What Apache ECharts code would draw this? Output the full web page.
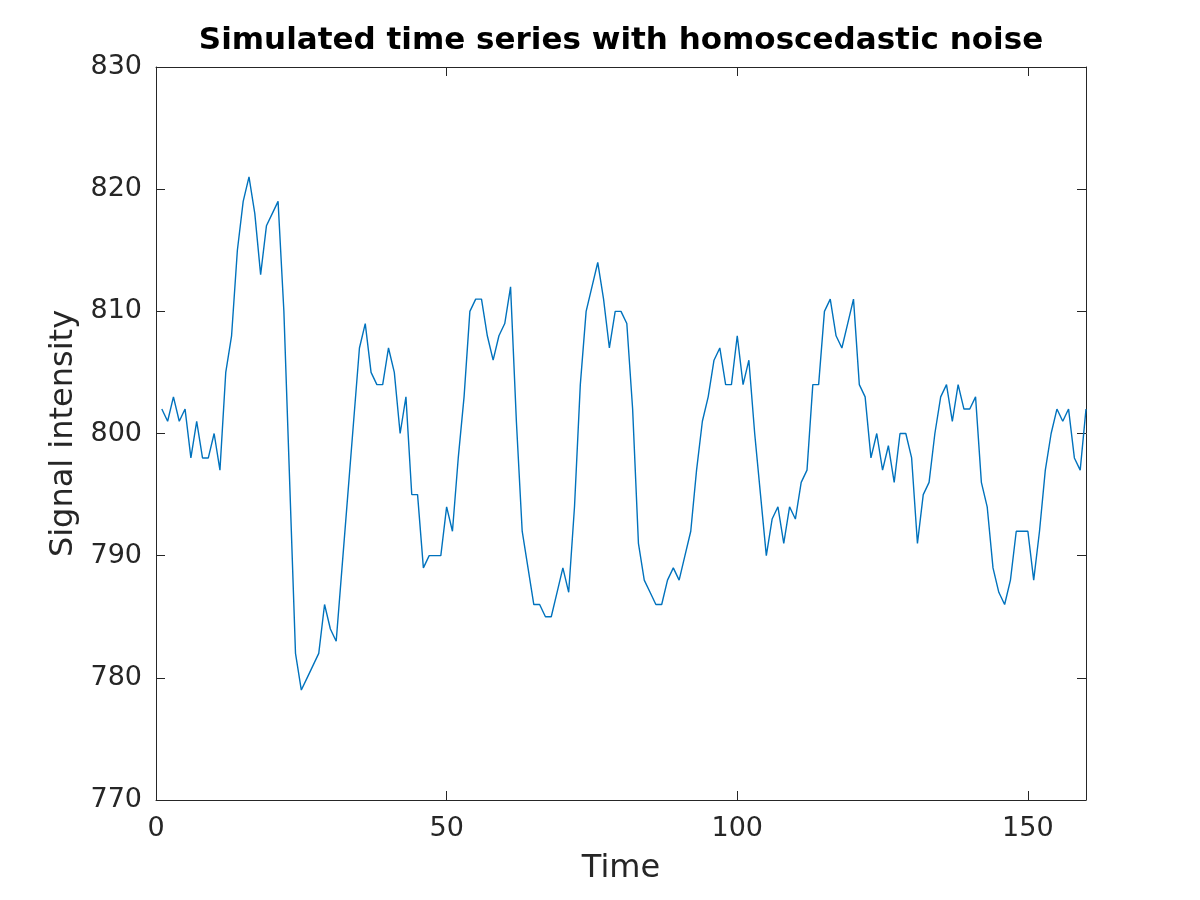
<!DOCTYPE html>
<html>
<head>
<meta charset="utf-8">
<script src="https://cdn.jsdelivr.net/npm/echarts@6/dist/echarts.min.js"></script>
<style>
  html, body { margin: 0; padding: 0; background: #ffffff; }
  #chart { width: 1200px; height: 900px; }
</style>
</head>
<body>
<div id="chart"></div>
<script>
// ---- Data ----
var titleText = 'Simulated time series with homoscedastic noise';
var xAxisName = 'Time';
var yAxisName = 'Signal intensity';
var xTicks = [0, 50, 100, 150];
var yTicks = [770, 780, 790, 800, 810, 820, 830];

var timePoints = [];
for (var k = 1; k <= 160; k++) timePoints.push(k);

var signalValues = [
  802, 801, 803, 801, 802, 798, 801, 798, 798, 800,
  797, 805, 808, 815, 819, 821, 818, 813, 817, 818,
  819, 810, 796, 782, 779, 780, 781, 782, 786, 784,
  783, 789, 795, 801, 807, 809, 805, 804, 804, 807,
  805, 800, 803, 795, 795, 789, 790, 790, 790, 794,
  792, 798, 803, 810, 811, 811, 808, 806, 808, 809,
  812, 801, 792, 789, 786, 786, 785, 785, 787, 789,
  787, 794, 804, 810, 812, 814, 811, 807, 810, 810,
  809, 802, 791, 788, 787, 786, 786, 788, 789, 788,
  790, 792, 797, 801, 803, 806, 807, 804, 804, 808,
  804, 806, 800, 795, 790, 793, 794, 791, 794, 793,
  796, 797, 804, 804, 810, 811, 808, 807, 809, 811,
  804, 803, 798, 800, 797, 799, 796, 800, 800, 798,
  791, 795, 796, 800, 803, 804, 801, 804, 802, 802,
  803, 796, 794, 789, 787, 786, 788, 792, 792, 792,
  788, 792, 797, 800, 802, 801, 802, 798, 797, 802
];

// ---- Build chart ----
var seriesData = timePoints.map(function (t, i) { return [t, signalValues[i]]; });

var axisColor = '#262626';
var fontFam = 'DejaVu Sans';
var xMin = xTicks[0], xMax = 160, xInt = xTicks[1] - xTicks[0];
var yMin = yTicks[0], yMax = yTicks[yTicks.length - 1], yInt = yTicks[1] - yTicks[0];

var chart = echarts.init(document.getElementById('chart'), null, { renderer: 'canvas' });

function baseAxis(extra) {
  var o = {
    type: 'value',
    axisLine: { show: true, onZero: false, lineStyle: { color: axisColor, width: 1 } },
    axisTick: { show: true, inside: true, length: 9, lineStyle: { color: axisColor, width: 1 } },
    splitLine: { show: false }
  };
  for (var key in extra) o[key] = extra[key];
  return o;
}

chart.setOption({
  animation: false,
  backgroundColor: '#ffffff',
  grid: { left: 156, right: 114, top: 67, bottom: 100, containLabel: false },
  graphic: [{
    type: 'text',
    x: 621, y: 41,
    style: {
      text: titleText,
      fill: '#000000',
      font: 'bold 31px "DejaVu Sans"',
      textAlign: 'center',
      textVerticalAlign: 'middle'
    }
  }],
  xAxis: [
    baseAxis({
      position: 'bottom', min: xMin, max: xMax, interval: xInt,
      name: xAxisName, nameLocation: 'middle', nameGap: 53,
      nameTextStyle: { color: axisColor, fontSize: 32, fontFamily: fontFam },
      axisLabel: { show: true, showMaxLabel: false, margin: 15, color: axisColor, fontSize: 27, fontFamily: fontFam }
    }),
    baseAxis({
      position: 'top', min: xMin, max: xMax, interval: xInt,
      axisLabel: { show: false }
    })
  ],
  yAxis: [
    baseAxis({
      position: 'left', min: yMin, max: yMax, interval: yInt,
      name: yAxisName, nameLocation: 'middle', nameGap: 70,
      nameTextStyle: { color: axisColor, fontSize: 32, fontFamily: fontFam },
      axisLabel: { show: true, margin: 14, color: axisColor, fontSize: 27, fontFamily: fontFam }
    }),
    baseAxis({
      position: 'right', min: yMin, max: yMax, interval: yInt,
      axisLabel: { show: false }
    })
  ],
  series: [{
    type: 'line',
    xAxisIndex: 0,
    yAxisIndex: 0,
    data: seriesData,
    showSymbol: false,
    symbol: 'none',
    lineStyle: { color: '#0072BD', width: 1.4 },
    itemStyle: { color: '#0072BD' }
  }]
});
</script>
</body>
</html>
